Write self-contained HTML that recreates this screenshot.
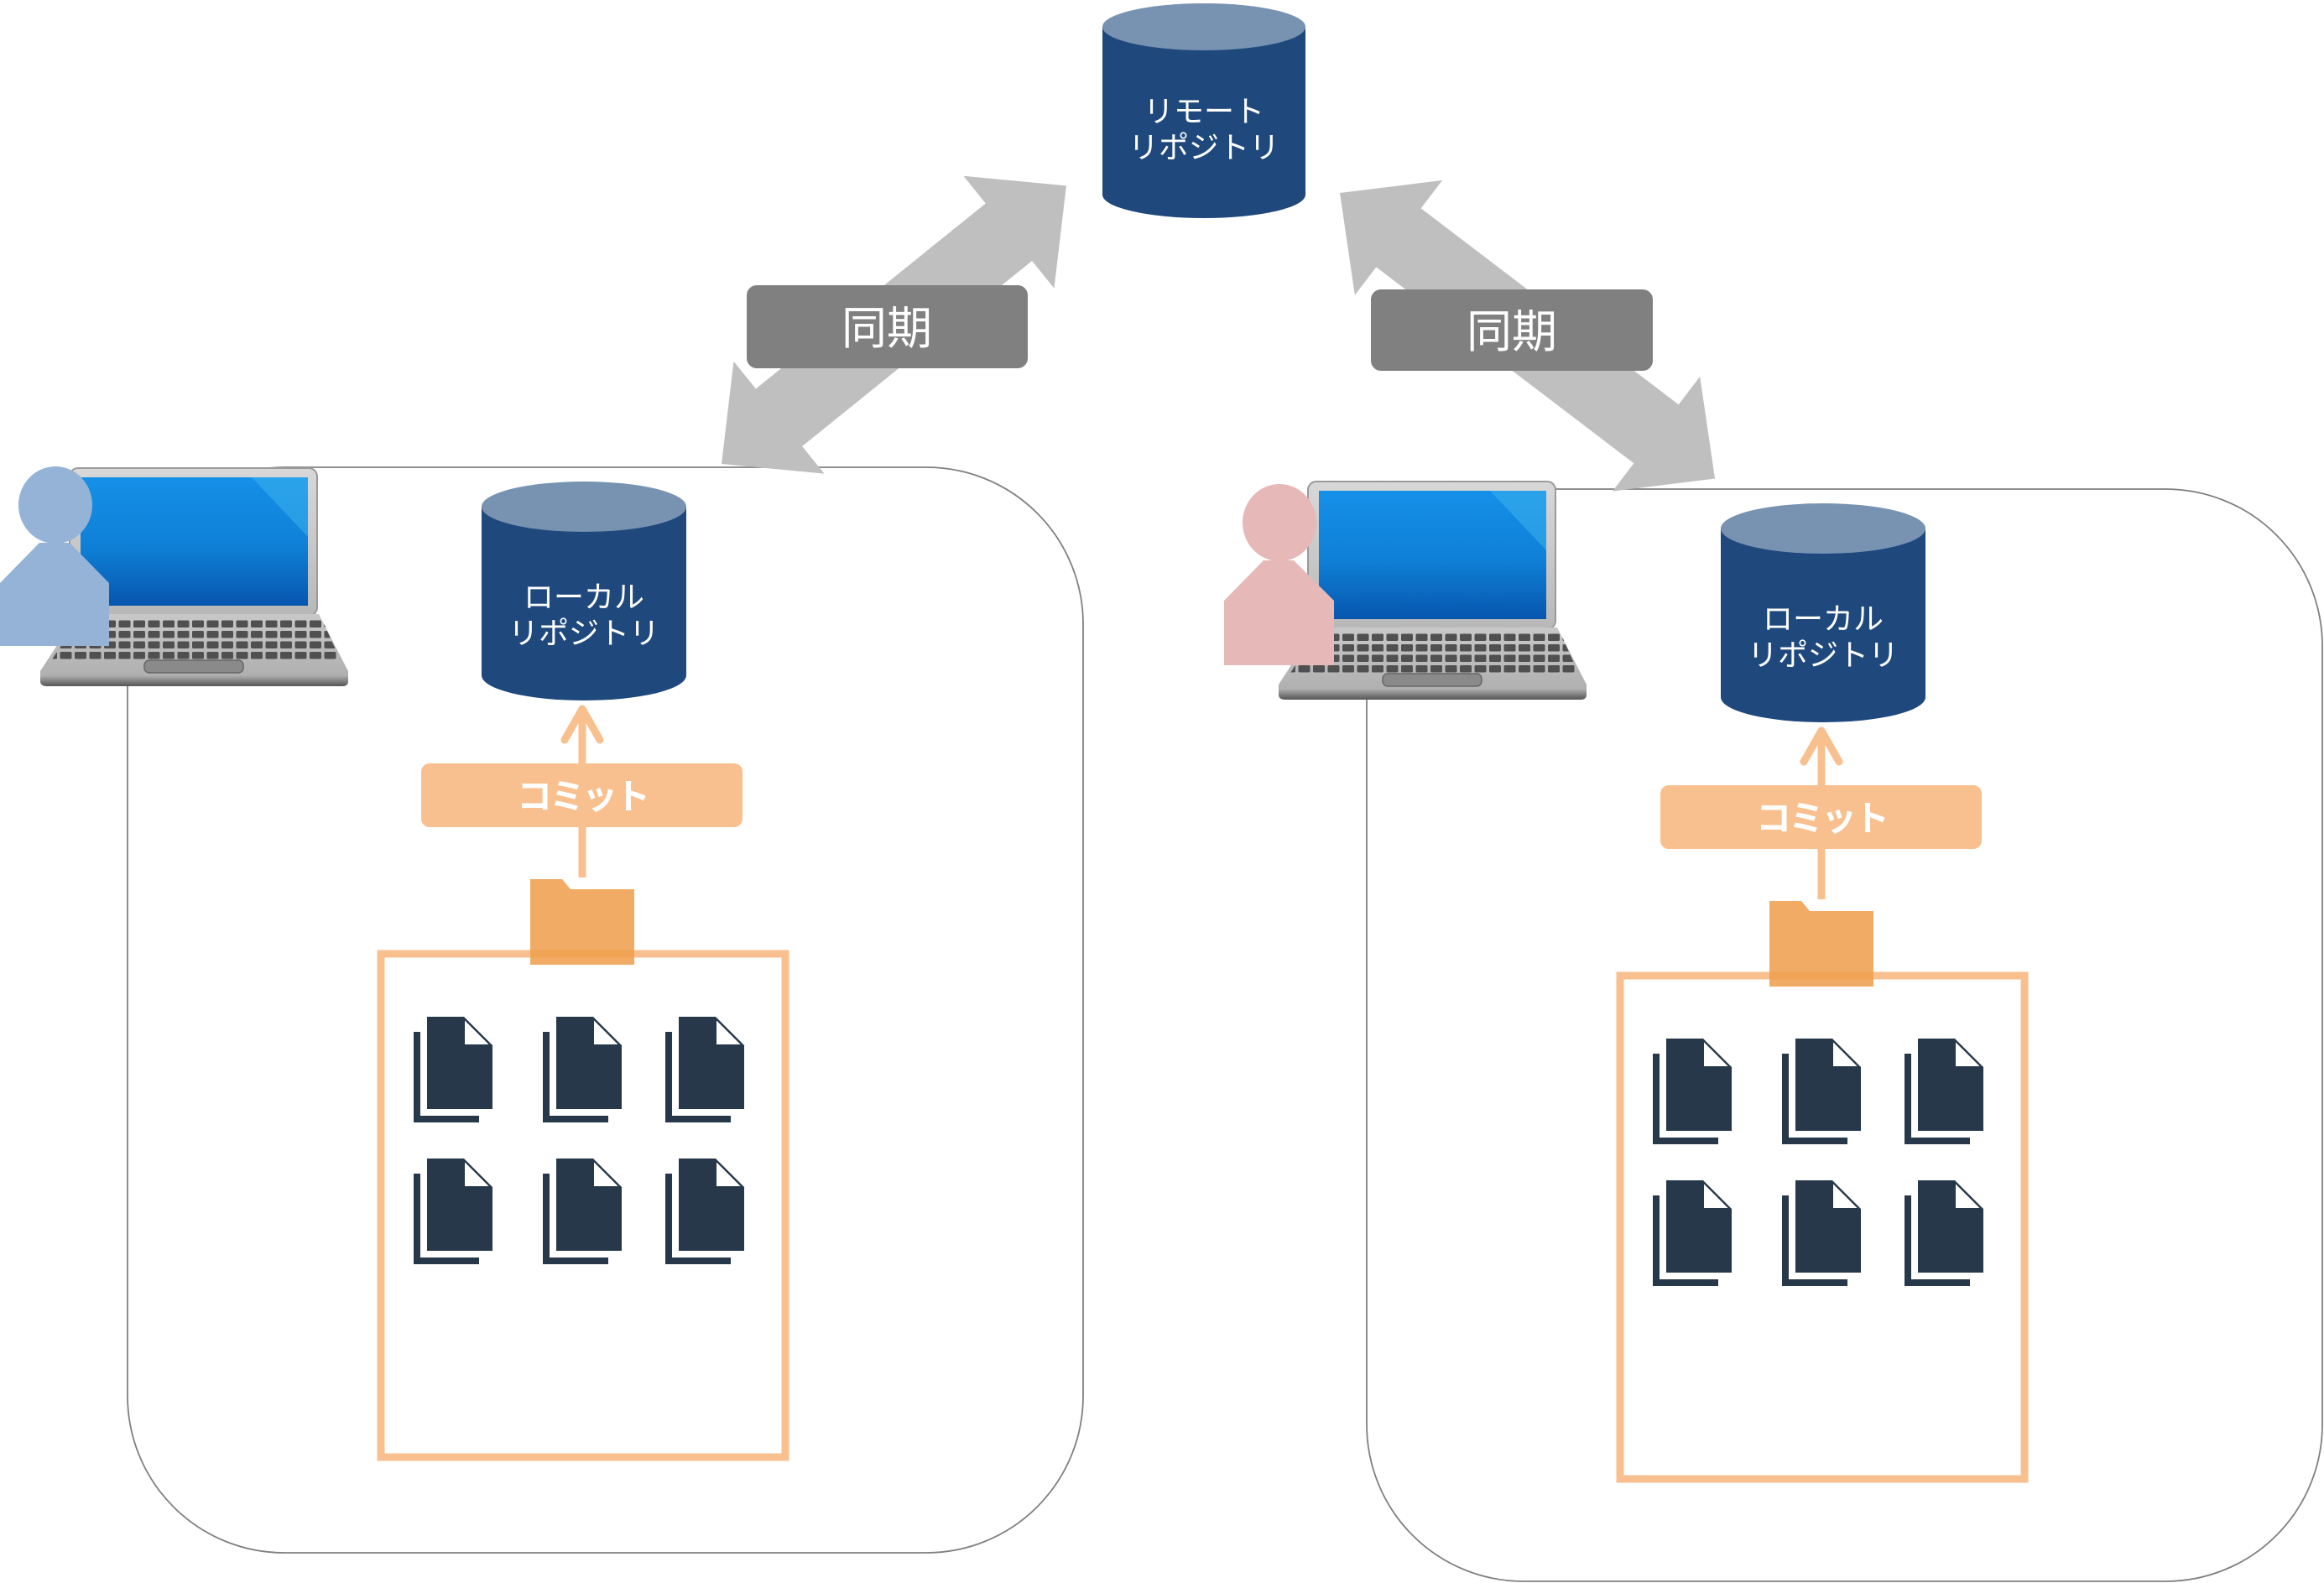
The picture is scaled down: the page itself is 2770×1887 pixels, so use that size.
<!DOCTYPE html>
<html><head><meta charset="utf-8"><style>
html,body{margin:0;padding:0;background:#fff;}
svg{display:block;}
text{font-family:"Liberation Sans","Noto Sans CJK JP",sans-serif;fill:#fff;}
</style></head><body>
<svg width="2770" height="1887" viewBox="0 0 2770 1887" xmlns="http://www.w3.org/2000/svg">
<defs>
<linearGradient id="scr" x1="0" y1="0" x2="0" y2="1">
<stop offset="0" stop-color="#1590e8"/><stop offset="0.55" stop-color="#0f7fd6"/><stop offset="1" stop-color="#0756ad"/>
</linearGradient>
<linearGradient id="lid" x1="0" y1="0" x2="0" y2="1">
<stop offset="0" stop-color="#d8d8d8"/><stop offset="1" stop-color="#b8b8b8"/>
</linearGradient>
<linearGradient id="base" x1="0" y1="0" x2="0" y2="1">
<stop offset="0" stop-color="#c8c8c8"/><stop offset="0.85" stop-color="#b0b0b0"/><stop offset="1" stop-color="#555"/>
</linearGradient>
<pattern id="keys" x="0" y="0" width="17.5" height="12.5" patternUnits="userSpaceOnUse">
<rect x="1.5" y="2" width="14" height="8.5" rx="1.5" fill="#505050"/>
</pattern>
<g id="laptop">
<rect x="83" y="558" width="295" height="176" rx="10" fill="url(#lid)" stroke="#9a9a9a" stroke-width="2"/>
<rect x="96" y="569" width="271" height="153" fill="url(#scr)"/>
<polygon points="300,569 367,569 367,640" fill="#3fb6ee" opacity="0.5"/>
<path d="M92,732 L380,732 L415,800 L415,812 Q415,818 408,818 L56,818 Q48,818 48,812 L48,800 Z" fill="url(#base)"/>
<polygon points="95,736 383,736 405,786 62,786" fill="url(#keys)"/>
<rect x="172" y="787" width="118" height="15" rx="6" fill="#8a8a8a" stroke="#666" stroke-width="1.5"/>
</g>
<g id="doc">
<rect x="0" y="18" width="8" height="108" fill="#263849"/>
<rect x="0" y="118" width="78" height="8" fill="#263849"/>
<polygon points="16,0 60,0 94,34 94,110 16,110" fill="#263849"/>
<polygon points="60,2 60,34 92,34" fill="#fff" stroke="#263849" stroke-width="2"/>
</g>
<g id="docs">
<use href="#doc" x="493" y="1212"/><use href="#doc" x="647" y="1212"/><use href="#doc" x="793" y="1212"/>
<use href="#doc" x="493" y="1381"/><use href="#doc" x="647" y="1381"/><use href="#doc" x="793" y="1381"/>
</g>
<g id="local">
<path d="M574,604 L574,805 A122,30 0 0 0 818,805 L818,604 Z" fill="#1f497d"/>
<ellipse cx="696" cy="604" rx="122" ry="30" fill="#7892b2"/>
<text x="696" y="724" font-size="36" text-anchor="middle">ローカル</text>
<text x="696" y="767" font-size="36" text-anchor="middle">リポジトリ</text>
<line x1="694" y1="1046" x2="694" y2="845" stroke="#f9c08f" stroke-width="9"/>
<polyline points="673,882 694,845 715,882" fill="none" stroke="#f9c08f" stroke-width="9" stroke-linecap="round" stroke-linejoin="round"/>
<rect x="502" y="910" width="383" height="76" rx="10" fill="#f9c08f"/>
<text x="694" y="964" font-size="42" font-weight="bold" letter-spacing="-3" text-anchor="middle">コミット</text>
<rect x="454" y="1137" width="482" height="600" fill="none" stroke="#f9c08f" stroke-width="9"/>
<path d="M632,1048 L670,1048 L680,1060 L756,1060 L756,1150 L632,1150 Z" fill="#ef9f4f" opacity="0.88"/>
<use href="#docs"/>
</g>
</defs>

<!-- remote repository -->
<path d="M1314,32 L1314,232 A121,28 0 0 0 1556,232 L1556,32 Z" fill="#1f497d"/>
<ellipse cx="1435" cy="32" rx="121" ry="28" fill="#7892b2"/>
<text x="1435" y="145" font-size="36" text-anchor="middle">リモート</text>
<text x="1435" y="188" font-size="36" text-anchor="middle">リポジトリ</text>

<!-- containers -->
<rect x="152" y="557" width="1139" height="1294" rx="187" fill="none" stroke="#808080" stroke-width="1.8"/>
<rect x="1629" y="583" width="1139" height="1302" rx="187" fill="none" stroke="#808080" stroke-width="1.8"/>

<use href="#local"/>
<g transform="translate(1477,26)"><use href="#local"/></g>

<!-- laptops -->
<use href="#laptop"/>
<g transform="translate(1476,16)"><use href="#laptop"/></g>

<!-- persons -->
<g fill="#95b3d7">
<ellipse cx="66" cy="602" rx="44" ry="46"/>
<polygon points="0,695 47,647 83,647 130,695 130,770 0,770"/>
</g>
<g fill="#e6b8b7">
<ellipse cx="1525" cy="623" rx="44" ry="46"/>
<polygon points="1459,716 1506,668 1542,668 1590,716 1590,793 1459,793"/>
</g>

<!-- sync arrows -->
<g fill="#bfbfbf">
<polygon transform="translate(860,553) rotate(-38.9)" points="0,0 88,-86 88,-44 440,-44 440,-86 528,0 440,86 440,44 88,44 88,86"/>
<polygon transform="translate(1597,230) rotate(37.3)" points="0,0 88,-86 88,-44 474,-44 474,-86 562,0 474,86 474,44 88,44 88,86"/>
</g>
<rect x="890" y="340" width="335" height="99" rx="12" fill="#808080"/>
<text x="1057" y="410" font-size="54" text-anchor="middle">同期</text>
<rect x="1634" y="345" width="336" height="97" rx="12" fill="#808080"/>
<text x="1802" y="414" font-size="54" text-anchor="middle">同期</text>
</svg>
</body></html>
